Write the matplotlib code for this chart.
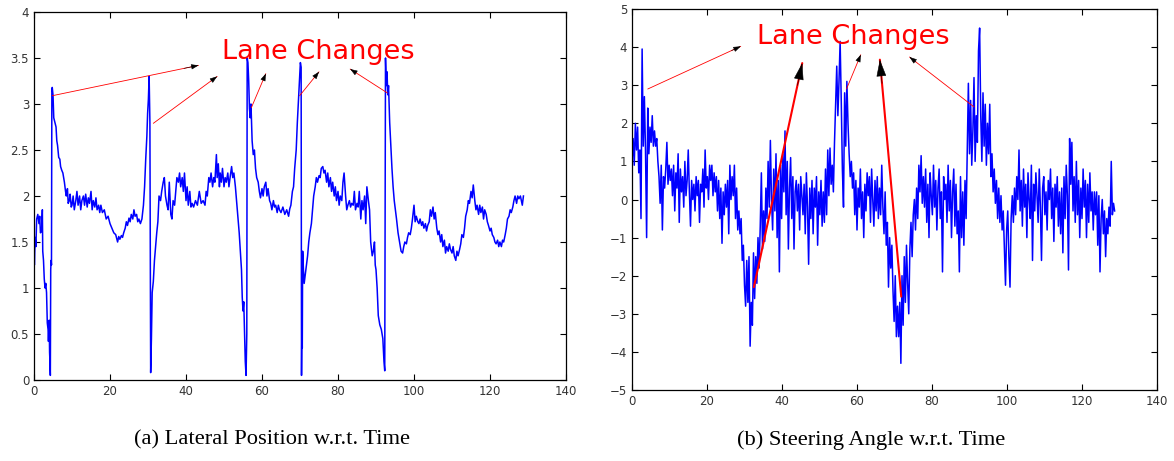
import matplotlib.pyplot as plt
import numpy as np

# lateral position (a)
lat_t = [0.0, 0.1, 0.3, 0.5, 0.7, 1.0, 1.3, 1.5, 1.7, 2.0, 2.2, 2.3, 2.5, 2.7, 2.9, 3.1, 3.3, 3.5, 3.7, 3.8,
         4.0, 4.1, 4.2, 4.3, 4.4, 4.5, 4.6, 4.7, 4.8, 5.0, 5.2, 5.5, 5.8, 6.0, 6.2, 6.5, 6.8, 7.0, 7.3, 7.6,
         8.0, 8.3, 8.5, 8.8, 9.0, 9.3, 9.5, 9.8, 10.0, 10.3, 10.6, 11.0, 11.3, 11.6, 12.0, 12.3, 12.6, 13.0, 13.3, 13.6,
         14.0, 14.3, 14.6, 15.0, 15.3, 15.6, 16.0, 16.3, 16.6, 17.0, 17.3, 17.6, 18.0, 18.5, 19.0, 19.5, 20.0, 20.5, 21.0, 21.5,
         22.0, 22.3, 22.6, 23.0, 23.3, 23.6, 24.0, 24.3, 24.6, 25.0, 25.3, 25.6, 26.0, 26.3, 26.6, 27.0, 27.3, 27.6, 28.0, 28.4,
         28.8, 29.1, 29.4, 29.7, 29.9, 30.1, 30.3, 30.5, 30.7, 30.9, 31.1, 31.4, 31.7, 32.0, 32.3, 32.6, 32.9, 33.3, 33.6, 34.0,
         34.3, 34.6, 35.0, 35.3, 35.6, 36.0, 36.3, 36.6, 37.0, 37.3, 37.6, 38.0, 38.3, 38.6, 39.0, 39.3, 39.6, 40.0, 40.3, 40.6,
         41.0, 41.3, 41.6, 42.0, 42.5, 43.0, 43.5, 44.0, 44.5, 45.0, 45.3, 45.6, 46.0, 46.3, 46.6, 47.0, 47.3, 47.6, 48.0, 48.2,
         48.5, 48.8, 49.0, 49.3, 49.6, 50.0, 50.3, 50.6, 51.0, 51.3, 51.6, 52.0, 52.3, 52.6, 53.0, 53.3, 53.6, 54.0, 54.3, 54.6,
         54.8, 55.0, 55.2, 55.4, 55.6, 55.8, 56.0, 56.1, 56.3, 56.5, 56.7, 56.9, 57.1, 57.4, 57.7, 58.0, 58.3, 58.6, 59.0, 59.3,
         59.6, 60.0, 60.3, 60.6, 61.0, 61.3, 61.6, 62.0, 62.3, 62.6, 63.0, 63.3, 63.6, 64.0, 64.3, 64.6, 65.0, 65.5, 66.0, 66.5,
         67.0, 67.3, 67.6, 68.0, 68.3, 68.6, 69.0, 69.3, 69.6, 69.9, 70.1, 70.3, 70.4, 70.5, 70.6, 70.7, 70.9, 71.1, 71.4, 71.7,
         72.0, 72.3, 72.6, 73.0, 73.3, 73.6, 74.0, 74.3, 74.6, 75.0, 75.3, 75.6, 76.0, 76.3, 76.6, 77.0, 77.3, 77.6, 78.0, 78.3,
         78.6, 79.0, 79.3, 79.6, 80.0, 80.3, 80.6, 81.0, 81.3, 81.6, 82.0, 82.3, 82.6, 83.0, 83.3, 83.6, 84.0, 84.3, 84.6, 85.0,
         85.3, 85.6, 86.0, 86.3, 86.6, 87.0, 87.3, 87.6, 88.0, 88.3, 88.6, 89.0, 89.3, 89.6, 89.8, 90.0, 90.3, 90.6, 91.0, 91.4,
         91.8, 92.1, 92.3, 92.5, 92.7, 92.9, 93.1, 93.3, 93.6, 93.9, 94.2, 94.5, 94.8, 95.1, 95.4, 95.8, 96.2, 96.6, 97.0, 97.3,
         97.6, 98.0, 98.3, 98.6, 99.0, 99.3, 99.6, 100.0, 100.3, 100.6, 101.0, 101.3, 101.6, 102.0, 102.3, 102.6, 103.0, 103.3, 103.6, 104.0,
         104.3, 104.6, 105.0, 105.3, 105.6, 106.0, 106.3, 106.6, 107.0, 107.3, 107.6, 108.0, 108.3, 108.6, 109.0, 109.3, 109.6, 110.0, 110.3, 110.6,
         111.0, 111.3, 111.6, 112.0, 112.3, 112.6, 113.0, 113.3, 113.6, 114.0, 114.3, 114.6, 115.0, 115.3, 115.6, 116.0, 116.3, 116.6, 117.0, 117.3,
         117.6, 118.0, 118.3, 118.6, 119.0, 119.3, 119.6, 120.0, 120.3, 120.6, 121.0, 121.3, 121.6, 122.0, 122.3, 122.6, 123.0, 123.3, 123.6, 124.0,
         124.3, 124.6, 125.0, 125.3, 125.6, 126.0, 126.3, 126.6, 127.0, 127.3, 127.6, 128.0, 128.5, 128.8]
lat_y = [1.6, 1.25, 1.55, 1.45, 1.75, 1.8, 1.7, 1.78, 1.6, 1.62, 1.85, 1.4, 1.3, 1.1, 1.0, 1.05, 0.95, 0.62, 0.55, 0.42,
         0.65, 0.3, 0.2, 0.05, 1.2, 1.3, 1.25, 3.15, 3.18, 3.1, 2.85, 2.8, 2.75, 2.6, 2.55, 2.42, 2.4, 2.32, 2.28, 2.25,
         2.15, 2.05, 2.0, 2.08, 1.92, 1.95, 2.02, 1.88, 1.9, 2.0, 1.85, 1.95, 2.05, 1.9, 2.0, 1.85, 1.95, 2.0, 1.9, 2.02,
         1.88, 1.98, 1.92, 2.05, 1.85, 1.95, 1.88, 1.98, 1.85, 1.9, 1.82, 1.9, 1.82, 1.85, 1.75, 1.78, 1.7, 1.65, 1.6, 1.58,
         1.5, 1.56, 1.53, 1.57, 1.55, 1.6, 1.65, 1.72, 1.68, 1.76, 1.72, 1.8, 1.75, 1.85, 1.78, 1.8, 1.72, 1.75, 1.7, 1.75,
         1.9, 2.1, 2.4, 2.65, 2.9, 3.05, 3.3, 2.8, 0.08, 0.45, 0.95, 1.07, 1.3, 1.45, 1.6, 1.72, 2.0, 1.95, 2.05, 2.15,
         2.2, 2.0, 1.9, 1.85, 2.15, 1.8, 1.75, 1.95, 1.9, 2.05, 2.2, 2.15, 2.25, 2.1, 2.2, 2.05, 2.25, 1.95, 2.1, 1.9,
         2.05, 1.88, 1.92, 1.88, 1.95, 1.9, 2.05, 1.92, 1.95, 1.9, 2.05, 2.0, 2.2, 2.15, 2.25, 2.1, 2.2, 2.15, 2.45, 2.2,
         2.35, 2.1, 2.25, 2.15, 2.3, 2.1, 2.2, 2.15, 2.25, 2.1, 2.2, 2.32, 2.2, 2.25, 2.1, 1.95, 1.8, 1.6, 1.4, 1.2,
         0.9, 0.75, 0.85, 0.5, 0.2, 0.05, 0.5, 3.5, 3.45, 3.25, 2.95, 2.85, 3.0, 2.6, 2.45, 2.5, 2.3, 2.2, 2.15, 2.05,
         1.98, 2.08, 2.0, 2.1, 2.15, 2.0, 2.08, 1.95, 1.92, 1.85, 1.95, 1.88, 1.9, 1.82, 1.9, 1.85, 1.82, 1.88, 1.8, 1.85,
         1.78, 1.86, 1.9, 2.05, 2.1, 2.3, 2.5, 2.8, 3.05, 3.3, 3.45, 3.4, 0.05, 0.6, 0.35, 1.4, 1.2, 1.05, 1.15, 1.25,
         1.35, 1.5, 1.6, 1.7, 1.85, 2.0, 2.1, 2.2, 2.15, 2.22, 2.2, 2.3, 2.32, 2.25, 2.28, 2.15, 2.25, 2.1, 2.2, 2.05,
         2.15, 2.0, 2.1, 1.95, 2.05, 1.9, 2.0, 1.95, 2.15, 2.25, 2.0, 1.85, 1.9, 1.95, 1.88, 1.92, 1.9, 2.05, 1.85, 1.92,
         1.88, 2.05, 1.75, 1.95, 1.85, 2.0, 1.7, 2.1, 1.95, 1.85, 1.5, 1.35, 1.4, 1.5, 1.25, 1.2, 1.0, 0.7, 0.6, 0.55,
         0.45, 0.2, 0.1, 3.5, 3.2, 3.35, 3.1, 3.2, 2.8, 2.55, 2.3, 2.1, 1.95, 1.85, 1.75, 1.6, 1.5, 1.4, 1.38, 1.45,
         1.5, 1.48, 1.55, 1.6, 1.58, 1.65, 1.75, 1.9, 1.72, 1.78, 1.72, 1.7, 1.75, 1.68, 1.72, 1.65, 1.7, 1.62, 1.68, 1.72,
         1.85, 1.78, 1.88, 1.75, 1.82, 1.65, 1.58, 1.62, 1.5, 1.58, 1.45, 1.52, 1.38, 1.45, 1.4, 1.48, 1.42, 1.38, 1.45, 1.35,
         1.3, 1.4, 1.35, 1.42, 1.48, 1.58, 1.55, 1.65, 1.78, 1.85, 1.95, 1.92, 2.05, 1.98, 2.12, 1.95, 1.85, 1.9, 1.8, 1.9,
         1.82, 1.88, 1.75, 1.85, 1.8, 1.72, 1.68, 1.62, 1.65, 1.58, 1.55, 1.5, 1.48, 1.52, 1.45, 1.5, 1.45, 1.52, 1.5, 1.58,
         1.65, 1.75, 1.78, 1.85, 1.82, 1.88, 1.95, 2.0, 1.92, 2.0, 1.97, 2.0, 1.9, 2.0]

# steering angle (b), one reading every 0.3 s
steer_dt = 0.3
steer_y = [1.0, 1.6, 0.9, 2.0, 1.3, 1.9, 0.7, 1.3, -0.5, 3.95,
           1.4, 2.7, 1.3, -1.0, 2.4, 1.2, 1.9, 1.5, 2.2, 1.4,
           1.8, 1.4, 1.6, 1.0, 0.6, -0.1, 0.9, -0.8, 0.6, 0.3,
           0.8, 1.5, 0.4, 0.9, 0.5, 0.8, 0.1, 0.9, -0.3, 0.7,
           0.3, 1.2, -0.6, 0.8, 0.2, 0.6, -0.2, 1.0, 0.1, 0.5,
           1.3, 0.2, -0.7, 0.5, 0.0, 0.4, -0.3, 0.6, 0.1, 0.5,
           -0.6, 0.4, 0.2, 0.8, -0.2, 1.3, 0.3, 0.6, 0.0, 0.9,
           0.5, 0.9, 0.1, 0.7, 0.2, 0.6, -0.3, 0.5, -0.5, 0.3,
           -1.15, 0.2, -0.4, 0.4, -0.2, 0.5, -0.9, 0.9, 0.0, 0.6,
           0.1, 0.9, -0.5, 0.3, -0.8, -0.3, -0.9, -0.5, -1.6, -1.2,
           -2.25, -2.8, -1.6, -2.7, -1.5, -3.85, -2.7, -3.3, -1.4, -2.6,
           -1.5, -2.2, -1.0, -1.8, -0.7, 0.7, -1.3, -0.3, -1.1, 0.3,
           -0.5, 1.0, -0.2, 1.55, 0.0, -0.8, 0.8, -0.3, 1.2, -1.0,
           0.5, -1.9, 0.9, -0.5, 1.2, 0.2, 1.8, -0.4, 1.0, -1.3,
           0.3, 1.1, -0.5, 0.6, -1.3, 0.2, 0.5, -0.3, 0.4, -0.8,
           0.6, 0.1, -0.4, 0.4, -0.9, 0.7, -0.2, -1.7, 0.3, -0.5,
           0.5, -0.9, 0.3, -0.2, 0.6, -1.2, 0.2, -0.4, 0.5, -0.7,
           0.2, -0.6, 0.8, -0.4, 1.3, 0.1, 1.35, 0.4, 0.9, 0.2,
           1.5, 2.5, 3.5, 2.2, 3.1, 4.15, 2.6, 0.8, -0.2, 2.8,
           1.4, 3.1, 2.0, 1.2, 0.6, 1.0, 0.3, 0.7, -0.4, 0.5,
           -0.8, 0.3, -0.2, 0.8, -0.5, 0.2, -1.0, 0.4, -0.3, 0.7,
           0.1, 0.6, -0.6, 0.8, 0.0, -0.7, 0.5, -0.3, 0.6, -0.5,
           0.3, -0.4, 0.9, -0.2, -0.9, 0.2, -1.2, -0.6, -2.3, -1.0,
           -1.8, -1.2, -2.4, -3.2, -2.0, -3.6, -2.8, -3.6, -2.7, -4.3,
           -2.0, -3.3, -1.5, -2.7, -1.2, -2.2, -3.0, -1.3, -0.6, -1.5,
           -0.4, 0.0, -0.8, 0.3, -0.5, 0.9, 0.2, 1.15, -0.1, 0.6,
           -0.2, 0.8, -0.6, 0.4, -1.0, 0.7, 0.1, -0.4, 0.9, -0.2,
           0.5, -0.8, 0.3, 0.8, -0.5, 0.2, -1.9, 0.6, 0.0, 0.4,
           -0.6, 0.9, -0.3, 0.5, -1.0, 0.2, 0.8, -0.7, 0.4, -0.9,
           -0.3, -1.9, 0.6, -1.0, 0.2, -1.2, 0.5, -0.5, 1.3, 3.05,
           1.2, 2.6, 0.9, 1.8, 3.2, 1.0, 2.2, 1.5, 3.9, 4.5,
           2.2, 1.0, 2.8, 1.4, 2.5, 0.9, 2.0, 1.2, 2.5, 0.6,
           1.2, 0.2, 0.8, -0.1, 0.5, -0.5, 0.3, -0.6, 0.1, -0.8,
           -0.3, -1.3, -2.25, -0.8, -0.3, -1.5, -2.3, -0.5, 0.1, -0.6,
           0.3, -0.4, 0.6, 0.0, 1.3, -0.3, 0.5, -0.7, 0.8, -0.2,
           0.4, -1.0, 0.7, 0.0, -0.5, 0.9, -1.6, 0.4, -0.3, 0.7,
           0.1, -0.6, 0.8, -0.2, -1.6, 0.3, 0.6, -0.4, 0.2, -0.8,
           0.5, 0.0, 0.8, -0.5, 0.3, -1.1, 0.4, -0.2, 0.6, -0.7,
           0.2, -0.9, 0.3, -1.4, 0.6, -0.5, 0.9, 0.1, -1.85, 1.6,
           0.4, 1.5, -0.3, 0.6, -0.6, 1.0, -0.4, 0.5, -1.0, 0.3,
           -0.5, 0.8, -0.2, 0.5, -1.0, 0.4, -0.6, 0.7, -0.3, 0.2,
           -0.8, 0.2, -0.4, 0.2, -1.2, 0.1, -1.9, -0.5, 0.0, -0.9,
           -0.3, -1.5, -0.5, -0.9, -0.2, -0.7, 1.0, -0.4, -0.1, -0.3]
steer_t = np.arange(len(steer_y)) * steer_dt

# arrows: (tail, head, thick?)
lat_arrows = [((4.8, 3.09), (43.3, 3.42)), ((31.4, 2.79), (48.2, 3.30)), ((57.2, 2.96), (61.0, 3.33)),
              ((69.9, 3.09), (75.0, 3.35)), ((93.0, 3.12), (83.2, 3.38))]
steer_arrows = [((4.2, 2.9), (29.0, 4.02), False), ((32.5, -2.3), (45.4, 3.58), True),
                ((57.2, 2.9), (61.0, 3.8), False), ((71.8, -2.55), (66.1, 3.67), True),
                ((91.2, 2.43), (74.0, 3.74), False)]


def lane_arrow(ax, tail, head, thick=False):
    lw = 1.5 if thick else 0.6
    style = '-|>,head_length=1.1,head_width=0.32' if thick else '-|>,head_length=0.45,head_width=0.16'
    ax.annotate('', xy=head, xytext=tail,
                arrowprops=dict(arrowstyle='-', color='red', lw=lw, shrinkA=0, shrinkB=0))
    back = (tail[0] + 0.9 * (head[0] - tail[0]), tail[1] + 0.9 * (head[1] - tail[1]))
    ax.annotate('', xy=head, xytext=back,
                arrowprops=dict(arrowstyle=style, color='black', lw=0.4, shrinkA=0, shrinkB=0))


def style_axes(ax):
    ax.tick_params(direction='in', top=True, right=True, length=4, labelsize=8.5,
                   labelcolor='#333333', width=0.8)
    for s in ax.spines.values():
        s.set_linewidth(0.9)
    ax.set_xlim(0, 140)
    ax.set_xticks(range(0, 141, 20))


fig = plt.figure(figsize=(11.74, 4.61), dpi=100)
W, H = 1174, 461
ax1 = fig.add_axes([34 / W, 1 - 380 / H, (566 - 34) / W, (380 - 12) / H])
ax2 = fig.add_axes([632 / W, 1 - 390 / H, (1157 - 632) / W, (390 - 9) / H])

ax1.plot(lat_t, lat_y, color='#0000ff', lw=1.1)
style_axes(ax1)
ax1.set_ylim(0, 4)
ax1.set_yticks(np.arange(0, 4.01, 0.5))
ax1.set_yticklabels(['0', '0.5', '1', '1.5', '2', '2.5', '3', '3.5', '4'])
ax1.text(74.8, 3.57, 'Lane Changes', color='red', fontsize=19.5, ha='center', va='center')
for tail, head in lat_arrows:
    lane_arrow(ax1, tail, head)

ax2.plot(steer_t, steer_y, color='#0000ff', lw=1.1)
style_axes(ax2)
ax2.set_ylim(-5, 5)
ax2.set_yticks(range(-5, 6))
ax2.text(59.0, 4.27, 'Lane Changes', color='red', fontsize=19.5, ha='center', va='center')
for tail, head, thick in steer_arrows:
    lane_arrow(ax2, tail, head, thick)

fig.text(272 / W, 1 - 440 / H, '(a) Lateral Position w.r.t. Time', family='Liberation Serif',
         fontsize=16.2, ha='center', va='center')
fig.text(871 / W, 1 - 440 / H, '(b) Steering Angle w.r.t. Time', family='Liberation Serif',
         fontsize=16.2, ha='center', va='center')

fig.savefig('out.png', dpi=100)
